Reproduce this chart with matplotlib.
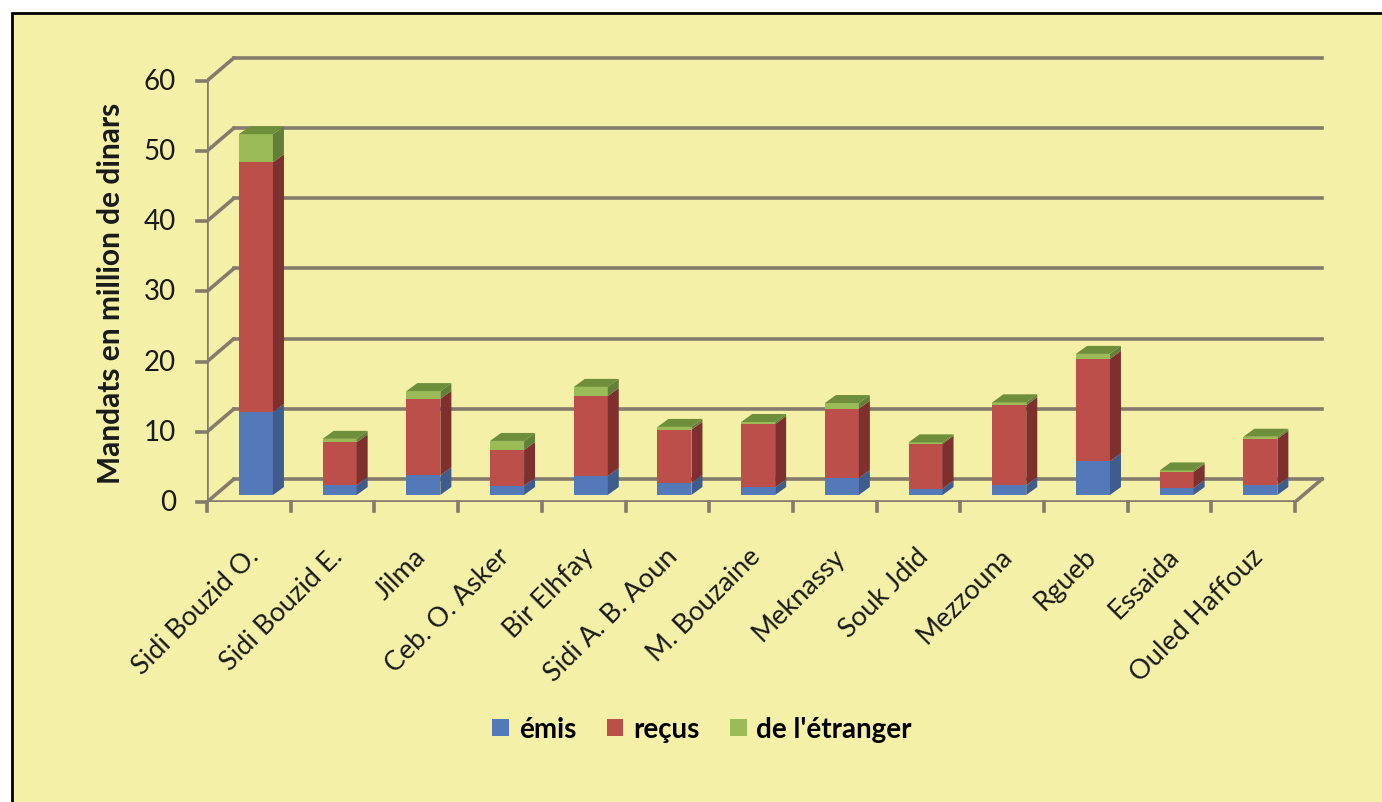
import matplotlib
matplotlib.use("Agg")
import matplotlib.pyplot as plt
from matplotlib.patches import Polygon, Rectangle, Patch

plt.rcParams["font.family"] = ["Lato", "DejaVu Sans"]

delegations = ["Sidi Bouzid O.", "Sidi Bouzid E.", "Jilma", "Ceb. O. Asker", "Bir Elhfay",
               "Sidi A. B. Aoun", "M. Bouzaine", "Meknassy", "Souk Jdid", "Mezzouna",
               "Rgueb", "Essaida", "Ouled Haffouz"]
emis = [11.8, 1.4, 2.8, 1.3, 2.7, 1.7, 1.1, 2.4, 0.9, 1.4, 4.8, 1.0, 1.4]
recus = [35.6, 6.1, 10.9, 5.1, 11.4, 7.6, 9.0, 9.9, 6.4, 11.4, 14.6, 2.3, 6.6]
etranger = [4.0, 0.5, 1.1, 1.3, 1.3, 0.4, 0.3, 0.8, 0.2, 0.4, 0.7, 0.2, 0.3]
yticks = [0, 10, 20, 30, 40, 50, 60]
series_names = ["émis", "reçus", "de l'étranger"]

# front / side / top colours for each series
front_c = ["#5479B9", "#BD4F4B", "#9BBB59"]
side_c = ["#3E5C8C", "#7E302E", "#62803A"]
top_c = ["#6F8FC8", "#CC6A66", "#6F8E3B"]

bg = "#F5F0A7"
grid_c = "#857B6C"

W, H = 1382, 803
fig = plt.figure(figsize=(W / 100, H / 100), dpi=100)
fig.patch.set_facecolor("white")
fig.patches.append(Rectangle((12 / W, -0.05), 1.1, 1 - 14 / H + 0.05, transform=fig.transFigure,
                             facecolor=bg, edgecolor="black", linewidth=2, zorder=-5))

# axes: 1 x-unit = one category (83.7 px), 1 y-unit = 7.02 px
px_x, px_y = 83.7, 7.02
x0_px, y0_px = 207, 503
xmin, xmax = -0.5, 12.95
ymin, ymax = 0, 65
ax = fig.add_axes([x0_px / W, (H - y0_px) / H,
                   (xmax - xmin) * px_x / W, (ymax - ymin) * px_y / H])
ax.set_xlim(xmin, xmax)
ax.set_ylim(ymin, ymax)
ax.axis("off")
ax.patch.set_alpha(0)

n = len(delegations)
wdx, wdy = 27 / px_x, 23 / px_y      # depth of the walls
lw = 2.6

# back wall gridlines and their links to the front axis
for v in yticks:
    ax.plot([-0.5, -0.5 + wdx], [v, v + wdy], color=grid_c, lw=lw, zorder=1, solid_capstyle="round")
    ax.plot([-0.5 + wdx, n - 0.5 + wdx], [v + wdy, v + wdy], color=grid_c, lw=lw, zorder=1)
    ax.plot([-0.5 - 10 / px_x, -0.5], [v, v], color=grid_c, lw=lw, zorder=1, clip_on=False)
    ax.text(-0.5 - 31 / px_x, v, str(v), ha="right", va="center", fontsize=20, color="#1a1a1a",
            clip_on=False)

# floor edges and front axis
ax.plot([-0.5, n - 0.5], [0, 0], color=grid_c, lw=lw, zorder=1)
ax.plot([n - 0.5, n - 0.5 + wdx], [0, wdy], color=grid_c, lw=lw, zorder=1)
ax.plot([-0.5, -0.5], [0, 60], color=grid_c, lw=lw, zorder=1)
for k in range(n + 1):
    ax.plot([k - 0.5, k - 0.5], [0, -9 / px_y], color=grid_c, lw=lw, zorder=1, clip_on=False)

# 3D-looking stacked bars
bw = 34 / px_x
off_x, base = 0.085, 7 / px_y
bdx, bdy = 11 / px_x, 8 / px_y
x = [i + off_x for i in range(n)]
bottom = [base] * n
for s, vals in enumerate([emis, recus, etranger]):
    ax.bar(x, vals, width=bw, bottom=bottom, color=front_c[s], zorder=3, linewidth=0)
    for i in range(n):
        xr = x[i] + bw / 2
        y_lo, y_hi = bottom[i], bottom[i] + vals[i]
        ax.add_patch(Polygon([(xr, y_lo), (xr + bdx, y_lo + bdy), (xr + bdx, y_hi + bdy), (xr, y_hi)],
                             closed=True, facecolor=side_c[s], edgecolor="none", zorder=3))
    bottom = [b + v for b, v in zip(bottom, vals)]

for i in range(n):
    xl, xr = x[i] - bw / 2, x[i] + bw / 2
    y_hi = bottom[i]
    ax.add_patch(Polygon([(xl, y_hi), (xr, y_hi), (xr + bdx, y_hi + bdy), (xl + bdx, y_hi + bdy)],
                         closed=True, facecolor=top_c[2], edgecolor="none", zorder=4))

# category labels
for i, name in enumerate(delegations):
    ax.text(i + 0.07, -50 / px_y, name, rotation=45, rotation_mode="anchor", ha="right", va="center",
            fontsize=19.5, color="#1a1a1a", clip_on=False)

fig.text(111 / W, 1 - 293 / H, "Mandats en million de dinars", rotation=90, ha="center", va="center",
         fontsize=21.5, fontweight="bold", color="#1a1a1a")

handles = [Patch(facecolor=c, edgecolor="none") for c in front_c]
fig.legend(handles, series_names, loc="center", bbox_to_anchor=(702 / W, 1 - 730 / H), ncol=3,
           frameon=False, handlelength=0.6, handleheight=0.55, handletextpad=0.35, columnspacing=1.1,
           prop={"weight": "bold", "size": 20})

fig.savefig("out.png", dpi=100, facecolor=fig.get_facecolor())
